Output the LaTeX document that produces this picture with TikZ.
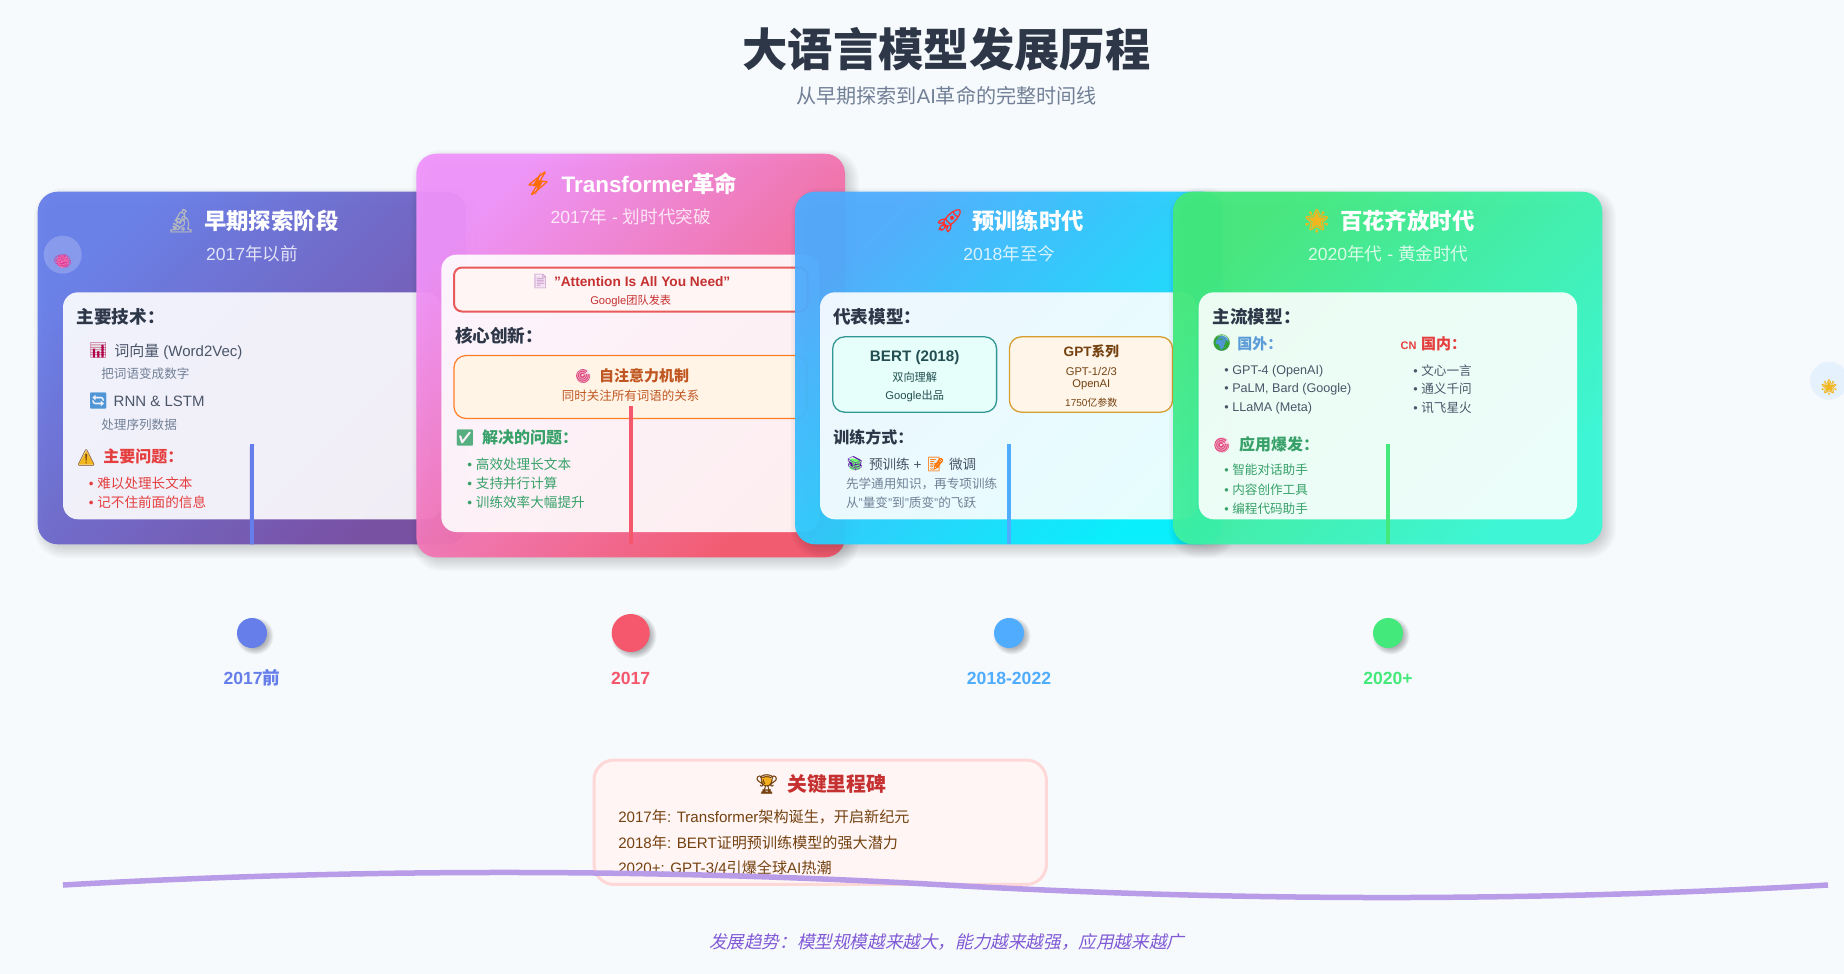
\documentclass[tikz,border=0pt]{standalone}
\usetikzlibrary{shapes.geometric}
\usepackage{fontspec}
\setmainfont{Liberation Sans}
\newfontfamily\cjkfont{Noto Sans CJK SC}
\newfontfamily\cjkslant[FakeSlant=0.22]{Noto Sans CJK SC}
\newfontfamily\emofont[FakeBold=1]{Noto Emoji}
\newfontfamily\emothin{Noto Emoji}
\XeTeXinterchartokenstate=1
\newXeTeXintercharclass\cjkclass
\newcount\cjkcnt
\newcommand\setcjkrange[2]{\cjkcnt=#1\relax
  \loop\XeTeXcharclass\cjkcnt=\cjkclass\ifnum\cjkcnt<#2\advance\cjkcnt by 1\repeat}
\setcjkrange{"3000}{"303F}
\setcjkrange{"4E00}{"9FFF}
\setcjkrange{"FF00}{"FFEF}
\def\cjkswitch{\cjkfont}
\XeTeXinterchartoks 0 \cjkclass={\cjkswitch}
\XeTeXinterchartoks 4095 \cjkclass={\cjkswitch}
\XeTeXinterchartoks \cjkclass 0={\rmfamily}
\XeTeXinterchartoks \cjkclass 4095={\rmfamily}
\definecolor{bgc}{HTML}{F7FAFD}
\definecolor{ink}{HTML}{2D3748}
\definecolor{mid}{HTML}{4A5568}
\definecolor{soft}{HTML}{718096}
\definecolor{redt}{HTML}{E53E3E}
\definecolor{redd}{HTML}{C53030}
\definecolor{grn}{HTML}{38A169}
\definecolor{org}{HTML}{C05621}
\definecolor{blu}{HTML}{3182CE}
\definecolor{brn}{HTML}{744210}
\definecolor{tealt}{HTML}{234E52}
\definecolor{pinkbg}{HTML}{FFF5F5}
\definecolor{pinkln}{HTML}{FED7D7}
\definecolor{wave}{HTML}{B89CE8}
\definecolor{trendc}{HTML}{805AD5}
\definecolor{gold}{HTML}{F2B61F}
\definecolor{tgt}{HTML}{DF4A7E}
\definecolor{brainc}{HTML}{F06AB0}
\definecolor{braind}{HTML}{D83A96}
\definecolor{aA}{HTML}{667EEA}\definecolor{aB}{HTML}{764BA2}
\definecolor{bA}{HTML}{F093FB}\definecolor{bB}{HTML}{F5576C}
\definecolor{cA}{HTML}{4FACFE}\definecolor{cB}{HTML}{00F2FE}
\definecolor{dA}{HTML}{43E97B}\definecolor{dB}{HTML}{38F9D7}
\newcommand\fs[1]{\fontsize{#1}{#1}\selectfont\rule[-.11em]{0pt}{1em}}
\newcommand\es[1]{\emofont\fontsize{#1}{#1}\selectfont}
\newcommand\et[1]{\emothin\fontsize{#1}{#1}\selectfont}
\tikzset{
  txt/.style={inner sep=0pt,outer sep=0pt,anchor=west},
  ctr/.style={inner sep=0pt,outer sep=0pt,anchor=center},
  emo/.style={inner sep=0pt,outer sep=0pt,anchor=center},
  cardbox/.style 2 args={shade,left color=#1,right color=#2,shading angle=45,fill opacity=.95,rounded corners=20pt},
  panel/.style={fill=white,fill opacity=.9,rounded corners=15pt},
  head/.style={txt,text=white,font=\bfseries\fs{22.4}},
  subhead/.style={ctr,text=white,text opacity=.8,font=\fs{17.6}},
  sect/.style={txt,text=ink,font=\bfseries\fs{17.6}},
  conn/.style={line width=4pt,#1},
  dotlabel/.style={ctr,font=\bfseries\fs{17.6},text=#1},
  dotn/.style={circle,fill=#1,inner sep=0pt,outer sep=0pt},
}
\newcommand\boxn[6]{%
  \pgfmathsetmacro\cxx{(#3+#5)/2}\pgfmathsetmacro\cyy{(#4+#6)/2}%
  \pgfmathsetmacro\ww{#5-#3}\pgfmathsetmacro\hh{#6-#4}%
  \node[rectangle,inner sep=0pt,outer sep=0pt,minimum width=\ww pt,minimum height=\hh pt,#2] (#1) at (\cxx,\cyy) {};}
% soft shadow: x1 y1 x2 y2 radius blur alpha
\newcommand\softshadow[7]{%
  \foreach \k in {1,...,10}{%
    \pgfmathsetmacro\sp{#6*(\k-5.5)/5}%
    \pgfmathsetmacro\rr{max(#5+\sp,1)}%
    \fill[black,fill opacity=#7,rounded corners=\rr pt] (#1-\sp,#2-\sp) rectangle (#3+\sp,#4+\sp);}}
% colour backings for the emoji: centre, half size, colour
\newcommand\bgsq[4]{\fill[#4,rounded corners=2pt] (#1-#3,#2-#3) rectangle (#1+#3,#2+#3);}
\newcommand\bgdisk[4]{\fill[#4] (#1,#2) circle[radius=#3];}
\begin{document}
\begin{tikzpicture}[x=1pt,y=-1pt]
\useasboundingbox (0,0) rectangle (1844,974);
\fill[bgc] (0,0) rectangle (1844,974);

% title
\node[ctr,text=ink,font=\bfseries\fs{45.3}] (title) at (946.5,49) {大语言模型发展历程};
\node[ctr,text=soft,font=\fs{20.1}] (subtitle) at (946.5,96) {从早期探索到AI革命的完整时间线};

% ---- card 1
\softshadow{43}{197}{471}{549}{20}{10}{.024}
\boxn{card1}{cardbox={aA}{aB}}{37.7}{191.7}{466}{544.3}{}
\node[circle,fill=white,fill opacity=.2,minimum size=38pt,inner sep=0pt] (bubble1) at (62.7,254.7) {};
\bgdisk{62.7}{261.5}{6.3}{brainc}
\node[emo,text=braind,font=\et{15}] (brain) at (62.7,261.5) {🧠};
\boxn{panel1}{panel}{63}{292.3}{440.7}{519.3}{}
\node[emo,text=ink!35!white,font=\es{23}] (e1) at (181,220.7) {🔬};
\node[head] (h1) at (204,220.7) {早期探索阶段};
\node[subhead] (s1) at (252,254) {2017年以前};
\node[sect] (a1) at (76.7,317) {主要技术：};
\bgsq{98.3}{350.7}{7}{black!10}
\node[emo,text=red!70!blue,font=\et{15}] (e1a) at (98.3,350.7) {📊};
\node[txt,text=mid,font=\fs{15}] (a2) at (114.3,351) {词向量 (Word2Vec)};
\node[txt,text=soft,font=\fs{12.6}] (a3) at (101.3,373.3) {把词语变成数字};
\node[emo,text=blu!85!white,font=\et{16}] (e1b) at (98.3,400.7) {🔄};
\node[txt,text=mid,font=\fs{15}] (a4) at (113.7,400.7) {RNN \& LSTM};
\node[txt,text=soft,font=\fs{12.6}] (a5) at (101.3,424.3) {处理序列数据};
\fill[gold] (86.3,450.5) -- (94,464.5) -- (78.6,464.5) -- cycle;
\node[emo,text=brn,font=\et{16}] (e1c) at (86.3,458) {⚠};
\node[txt,text=redt,font=\bfseries\fs{16}] (a6) at (103.3,456.7) {主要问题：};
\node[txt,text=redt,font=\fs{13.6}] (a7) at (88.8,482.7) {• 难以处理长文本};
\node[txt,text=redt,font=\fs{13.6}] (a8) at (88.8,502) {• 记不住前面的信息};
\coordinate (l1) at (252,444);
\draw[conn=aA] (l1) -- (card1.south);

% ---- card 2
\softshadow{421}{159}{850}{562}{20}{10}{.024}
\boxn{card2}{cardbox={bA}{bB}}{416.3}{153.7}{845}{557.3}{}
\boxn{panel2}{panel}{441.3}{254.7}{819.3}{532}{}
\fill[orange!85!red] (541,172) -- (532.5,186) -- (537.5,186) -- (535,195) -- (543.5,180.5) -- (538.5,180.5) -- cycle;
\node[emo,text=orange!85!red,font=\es{23}] (e2) at (538,183.3) {⚡};
\node[head] (h2) at (561.7,183.3) {Transformer革命};
\node[subhead] (s2) at (630.7,216.7) {2017年 - 划时代突破};
\boxn{paper}{draw=redt!85!white,line width=2pt,fill=pinkbg,rounded corners=8pt}{454}{267.5}{807.5}{311.5}{}
\bgsq{540.3}{281}{5.5}{violet!12!white}
\node[emo,text=violet!35!white,font=\es{14}] (e2a) at (540.3,281) {📄};
\node[txt,text=redd,font=\bfseries\fs{13.7}] (b1) at (554,281) {"Attention Is All You Need"};
\node[ctr,text=redd,font=\fs{11.2}] (b2) at (630.7,301) {Google团队发表};
\node[sect] (b3) at (455,336) {核心创新：};
\boxn{attn}{draw=orange!80!red!85!white,line width=1.2pt,fill={rgb,255:red,255;green,244;blue,230},rounded corners=12pt}{454}{355.5}{807}{418.5}{}
\bgdisk{583}{376}{7}{tgt}
\node[emo,text=white,text opacity=.8,font=\et{14}] (e2b) at (583,376) {🎯};
\node[txt,text=org,font=\bfseries\fs{15}] (b4) at (599,375.7) {自注意力机制};
\node[ctr,text=org,font=\fs{12.5}] (b5) at (630.7,395.3) {同时关注所有词语的关系};
\node[emo,text=grn!85!white,font=\et{16}] (e2c) at (465,437.7) {✅};
\node[txt,text=grn,font=\bfseries\fs{16}] (b6) at (482,437.7) {解决的问题：};
\node[txt,text=grn,font=\fs{13.6}] (b7) at (467.4,464) {• 高效处理长文本};
\node[txt,text=grn,font=\fs{13.6}] (b8) at (467.4,483) {• 支持并行计算};
\node[txt,text=grn,font=\fs{13.6}] (b9) at (467.4,502) {• 训练效率大幅提升};
\coordinate (l2a) at (630.7,406);
\coordinate (l2b) at (630.7,544.3);
\draw[conn=bB] (l2a) -- (l2b);

% ---- card 3
\softshadow{800}{197}{1228}{549}{20}{10}{.024}
\boxn{card3}{cardbox={cA}{cB}}{795}{191.7}{1223}{544.3}{}
\boxn{panel3}{panel}{820}{292.3}{1196.7}{519.3}{}
\node[emo,text=red!75!pink,font=\es{23}] (e3) at (949.3,220.7) {🚀};
\node[head] (h3) at (972,220.7) {预训练时代};
\node[subhead] (s3) at (1009.3,254) {2018年至今};
\node[sect] (c1) at (833.3,317) {代表模型：};
\boxn{bert}{draw={rgb,255:red,49;green,151;blue,149},line width=1.3pt,fill={rgb,255:red,230;green,255;blue,250},rounded corners=12pt}{832.7}{336.8}{996.6}{412.2}{}
\node[ctr,text=tealt,font=\bfseries\fs{15.2}] (c2) at (914.7,356.7) {BERT (2018)};
\node[ctr,text=tealt,font=\fs{11.2}] (c3) at (914.7,376.7) {双向理解};
\node[ctr,text=tealt,font=\fs{11.2}] (c4) at (914.7,396) {Google出品};
\boxn{gpt}{draw={rgb,255:red,214;green,158;blue,46},line width=1.3pt,fill={rgb,255:red,255;green,245;blue,233},rounded corners=12pt}{1009.4}{336.8}{1172.6}{412.2}{}
\node[ctr,text=brn,font=\bfseries\fs{13.6}] (c5) at (1091.3,351) {GPT系列};
\node[ctr,text=brn,font=\fs{11.2}] (c6) at (1091.3,371) {GPT-1/2/3};
\node[ctr,text=brn,font=\fs{11.2}] (c7) at (1091.3,383.3) {OpenAI};
\node[ctr,text=brn,font=\fs{10}] (c8) at (1091.3,402.3) {1750亿参数};
\node[sect,font=\bfseries\fs{16}] (c9) at (833.3,437.7) {训练方式：};
\bgsq{855}{464}{5.5}{green!55!white}
\node[emo,text=violet!70!blue,font=\et{14}] (e3a) at (855,464) {📚};
\node[txt,text=mid,font=\fs{13.6}] (c10) at (869,464) {预训练 +};
\bgsq{935.7}{464}{5}{black!8}
\node[emo,text=orange!90!red,font=\es{14}] (e3b) at (935.7,464) {📝};
\node[txt,text=mid,font=\fs{13.6}] (c11) at (949,464) {微调};
\node[txt,text=soft,font=\fs{12.6}] (c12) at (846,483.3) {先学通用知识，再专项训练};
\node[txt,text=soft,font=\fs{12.6}] (c13) at (846,502.3) {从"量变"到"质变"的飞跃};
\coordinate (l3) at (1009,444);
\coordinate (l3b) at (1009,544.3);
\draw[conn=cA] (l3) -- (l3b);

% ---- card 4
\softshadow{1178}{197}{1607}{549}{20}{10}{.024}
\boxn{card4}{cardbox={dA}{dB}}{1173}{191.7}{1602.3}{544.3}{}
\boxn{panel4}{panel}{1198.7}{292.3}{1577}{519.3}{}
\node[star,star points=5,star point ratio=2.2,fill=gold,minimum size=19pt,inner sep=0pt] (star1) at (1316.7,220.7) {};
\node[emo,text=gold,font=\es{23}] (e4) at (1316.7,220.7) {🌟};
\node[head] (h4) at (1340,220.7) {百花齐放时代};
\node[subhead] (s4) at (1388.3,254) {2020年代 - 黄金时代};
\node[sect] (d1) at (1212.7,317) {主流模型：};
\bgdisk{1221.7}{343.3}{7.5}{blu!85!white}
\node[emo,text=green!55!black!80!white,font=\et{16}] (e4a) at (1221.7,343.3) {🌍};
\node[txt,text=blu!80!white,font=\bfseries\fs{15}] (d2) at (1237.3,343.3) {国外：};
\node[txt,text=redt,font=\bfseries\fs{11}] (d3) at (1400.7,345) {CN};
\node[txt,text=redt,font=\bfseries\fs{15}] (d4) at (1421,343.3) {国内：};
\node[txt,text=mid,font=\fs{12.6}] (d5) at (1224.4,370.3) {• GPT-4 (OpenAI)};
\node[txt,text=mid,font=\fs{12.6}] (d6) at (1224.4,388.3) {• PaLM, Bard (Google)};
\node[txt,text=mid,font=\fs{12.6}] (d7) at (1224.4,407.3) {• LLaMA (Meta)};
\node[txt,text=mid,font=\fs{12.6}] (d8) at (1413.4,370.3) {• 文心一言};
\node[txt,text=mid,font=\fs{12.6}] (d9) at (1413.4,388.3) {• 通义千问};
\node[txt,text=mid,font=\fs{12.6}] (d10) at (1413.4,407.3) {• 讯飞星火};
\bgdisk{1221.7}{445}{7.5}{tgt}
\node[emo,text=white,text opacity=.8,font=\et{15}] (e4b) at (1221.7,445) {🎯};
\node[txt,text=grn,font=\bfseries\fs{16}] (d11) at (1239,444) {应用爆发：};
\node[txt,text=grn,font=\fs{12.6}] (d12) at (1224.4,470) {• 智能对话助手};
\node[txt,text=grn,font=\fs{12.6}] (d13) at (1224.4,489.3) {• 内容创作工具};
\node[txt,text=grn,font=\fs{12.6}] (d14) at (1224.4,508.3) {• 编程代码助手};
\coordinate (l4) at (1388,444);
\coordinate (l4b) at (1388,544.3);
\draw[conn=dA] (l4) -- (l4b);

% ---- timeline dots
\softshadow{240}{621}{270}{651}{15}{4}{.035}
\node[dotn=aA,minimum size=30pt] (dot1) at (252,633) {};
\softshadow{615}{617}{653}{655}{19}{4}{.035}
\node[dotn=bB,minimum size=38pt] (dot2) at (630.7,633) {};
\softshadow{997}{621}{1027}{651}{15}{4}{.035}
\node[dotn=cA,minimum size=30pt] (dot3) at (1009,633) {};
\softshadow{1376}{621}{1406}{651}{15}{4}{.035}
\node[dotn=dA,minimum size=30pt] (dot4) at (1388,633) {};
\node[dotlabel=aA] (y1) at (252,677.7) {2017前};
\node[dotlabel=bB] (y2) at (630.7,677.7) {2017};
\node[dotlabel=cA] (y3) at (1009,677.7) {2018-2022};
\node[dotlabel=dA] (y4) at (1388,677.7) {2020+};

% ---- sun bubble
\node[circle,fill=cA,fill opacity=.1,minimum size=38pt,inner sep=0pt] (bubble2) at (1829,380.7) {};
\node[star,star points=5,star point ratio=2.2,fill=gold,minimum size=12pt,inner sep=0pt] (star2) at (1829,387) {};
\node[emo,text=gold,font=\es{15}] (sun) at (1829,387) {🌟};

% ---- milestones
\boxn{miles}{draw=pinkln,line width=3pt,fill=pinkbg,rounded corners=20pt}{594}{760}{1046.4}{884.4}{}
\bgdisk{766.7}{781}{5.5}{gold!90!orange}
\node[emo,text=brn,font=\es{19}] (e5) at (766.7,784) {🏆};
\node[txt,text=redd,font=\bfseries\fs{19.8}] (m0) at (787.3,784) {关键里程碑};
\node[txt,text=brn,font=\fs{15.1}] (m1) at (618.3,816.7) {2017年: Transformer架构诞生，开启新纪元};
\node[txt,text=brn,font=\fs{15.1}] (m2) at (618.3,843) {2018年: BERT证明预训练模型的强大潜力};
\node[txt,text=brn,font=\fs{15.1}] (m3) at (618.3,867.7) {2020+: GPT-3/4引爆全球AI热潮};

% ---- wave
\coordinate (w0) at (63,885);
\coordinate (w1) at (945.5,885);
\coordinate (w2) at (1828,885);
\draw[line width=5.5pt,wave]
  (w0) .. controls (357,868.3) and (651.3,868.3) .. (w1)
       .. controls (1239.7,901.7) and (1533.7,901.7) .. (w2);

% ---- trend
\node[ctr,text=trendc,font={\def\cjkswitch{\cjkslant}\fs{17.6}}] (trend) at (946.7,942) {发展趋势：模型规模越来越大，能力越来越强，应用越来越广};
\end{tikzpicture}
\end{document}
